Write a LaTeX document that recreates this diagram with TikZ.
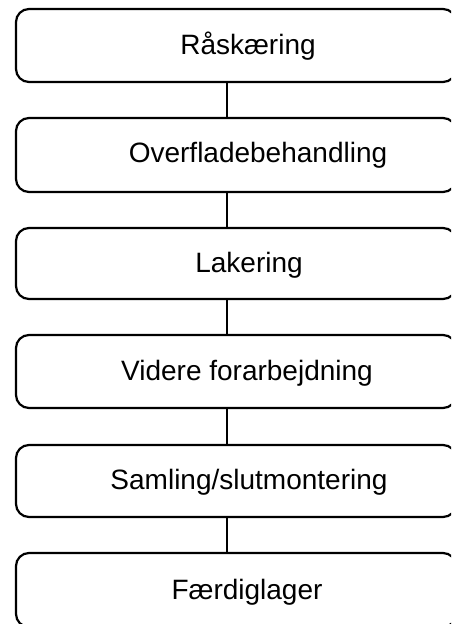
\documentclass[tikz,border=0pt]{standalone}
\usepackage{fontspec}
\setmainfont{Liberation Sans}
\begin{document}
\begin{tikzpicture}[x=1pt,y=-1pt,
  stagebox/.style={draw=black, line width=2.2pt, rounded corners=13pt, minimum width=440pt, minimum height=73pt, inner sep=0pt},
  stagetext/.style={font=\fontsize{28}{32}\selectfont, inner sep=0pt, anchor=center},
  link/.style={draw=black, line width=2pt}]
\useasboundingbox (0,0) rectangle (451,624);
\clip (0,0) rectangle (451,624);
\fill[white] (0,0) rectangle (451,624);
\coordinate (cx) at (227,0);
\node[stagebox] (b1) at (236,45.5) {};
\node[stagebox, minimum height=74pt] (b2) at (236,155) {};
\node[stagebox, minimum height=71pt] (b3) at (236,263.5) {};
\node[stagebox] (b4) at (236,371.5) {};
\node[stagebox, minimum height=72pt] (b5) at (236,481) {};
\node[stagebox, minimum height=74pt] (b6) at (236,590) {};
\node[stagetext] (t1) at (248,46) {Råskæring};
\node[stagetext] (t2) at (258,155) {Overfladebehandling};
\node[stagetext] (t3) at (249,265) {Lakering};
\node[stagetext] (t4) at (247,373) {Videre forarbejdning};
\node[stagetext] (t5) at (249,482) {Samling/slutmontering};
\node[stagetext] (t6) at (247,592) {Færdiglager};
\draw[link] (b1.south -| cx) -- (b2.north -| cx);
\draw[link] (b2.south -| cx) -- (b3.north -| cx);
\draw[link] (b3.south -| cx) -- (b4.north -| cx);
\draw[link] (b4.south -| cx) -- (b5.north -| cx);
\draw[link] (b5.south -| cx) -- (b6.north -| cx);
\end{tikzpicture}
\end{document}
